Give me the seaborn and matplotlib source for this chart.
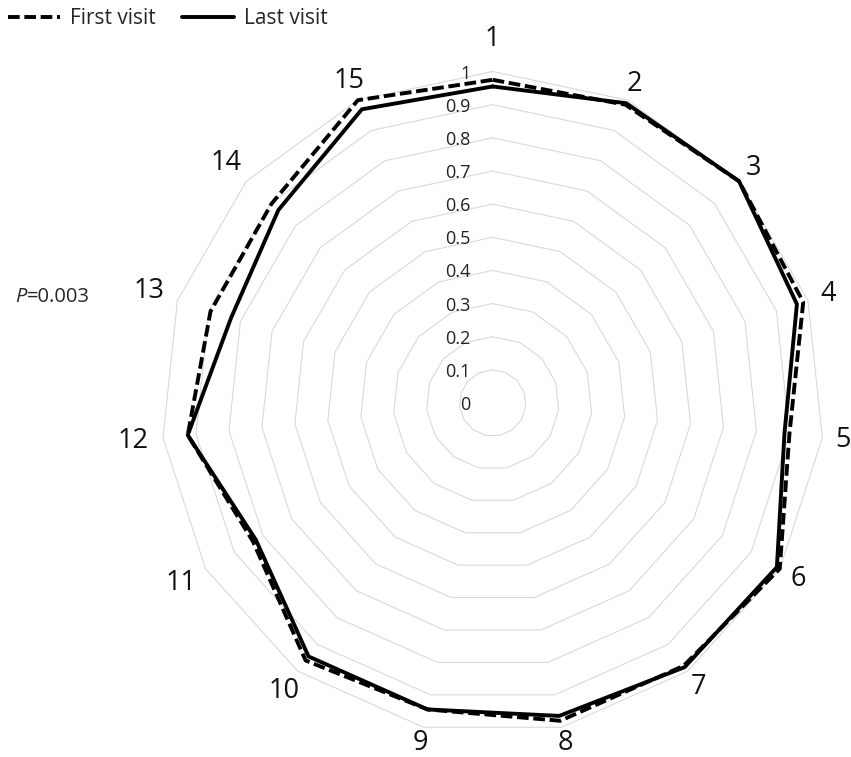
import numpy as np
import pandas as pd
import seaborn as sns
import matplotlib.pyplot as plt
from matplotlib.lines import Line2D


CATEGORIES = [str(i) for i in range(1, 16)]
FIRST_VISIT = [0.975, 0.985, 1.0, 0.985, 0.90, 1.0, 0.98, 0.98,
               0.945, 0.96, 0.835, 0.925, 0.895, 0.898, 1.0]
LAST_VISIT = [0.955, 0.99, 1.0, 0.965, 0.885, 0.99, 0.985, 0.965,
              0.945, 0.945, 0.825, 0.925, 0.83, 0.87, 0.97]
RINGS = [0.1, 0.2, 0.3, 0.4, 0.5, 0.6, 0.7, 0.8, 0.9, 1.0]
RING_LABELS = ["0", "0.1", "0.2", "0.3", "0.4", "0.5",
               "0.6", "0.7", "0.8", "0.9", "1"]
SERIES = ["First visit", "Last visit"]
P_VALUE = "=0.003"


def closed(values):
    """repeat the first point so the polygon closes"""
    return list(values) + list(values[:1])


sns.set_style("white")
plt.rcParams['font.family'] = ['Open Sans', 'DejaVu Sans']

n = len(CATEGORIES)
theta = np.linspace(0, 2 * np.pi, n + 1)

df = pd.DataFrame({
    'theta': np.tile(theta, 2),
    'value': closed(FIRST_VISIT) + closed(LAST_VISIT),
    'visit': [SERIES[0]] * (n + 1) + [SERIES[1]] * (n + 1),
})

fig = plt.figure(figsize=(8.51, 7.57), dpi=100)
ax = fig.add_axes([0.1894, 0.0297, 0.7791, 0.8758], projection='polar')
ax.set_theta_zero_location('N')
ax.set_theta_direction(-1)

# polygon grid like excel
for r in RINGS:
    ax.plot(theta, [r] * (n + 1), color='#d9d9d9', lw=0.8, zorder=1,
            clip_on=False)

dash = (3, 1.2)
sns.lineplot(data=df, x='theta', y='value', style='visit',
             dashes={SERIES[0]: dash, SERIES[1]: ""},
             color='black', lw=2.8, sort=False, estimator=None,
             legend=False, ax=ax, clip_on=False, zorder=3)

ax.set_ylim(0, 1)
ax.set_xticks([])
ax.set_yticks([])
ax.grid(False)
ax.spines['polar'].set_visible(False)
ax.set_xlabel('')
ax.set_ylabel('')

# value labels along the first axis
for r, lab in zip([0] + RINGS, RING_LABELS):
    ax.annotate(lab, (0, r), xytext=(-22, -2), textcoords='offset pixels',
                ha='right', va='center', fontsize=13, color='#222222',
                annotation_clip=False)

# category labels, the first one clears the value labels
for k, lab in enumerate(CATEGORIES):
    phi = theta[k]
    s, c = np.sin(phi), np.cos(phi)
    d = 12 + 9 * len(lab) * abs(s) + 2 * abs(c) + (19 if k == 0 else 0)
    ax.annotate(lab, (phi, 1.0), xytext=(d * s, d * c),
                textcoords='offset pixels', ha='center', va='center',
                fontsize=19.5, color='#111111', annotation_clip=False)

handles = [Line2D([], [], color='black', lw=2.8, dashes=dash),
           Line2D([], [], color='black', lw=2.8)]
fig.legend(handles, SERIES, loc='center left',
           bbox_to_anchor=(8 / 851, 1 - 19 / 757), ncol=2, frameon=False,
           fontsize=15, handlelength=2.5, handletextpad=0.48,
           columnspacing=1.25, borderpad=0, borderaxespad=0)

p = fig.text(15 / 851, 1 - 297 / 757, 'P', style='italic', fontsize=14.5,
             ha='left', va='center')
ax.annotate(P_VALUE, xy=(1, 0.5), xycoords=p, ha='left', va='center',
            fontsize=14.5, annotation_clip=False)

fig.savefig('out.png', dpi=100)
